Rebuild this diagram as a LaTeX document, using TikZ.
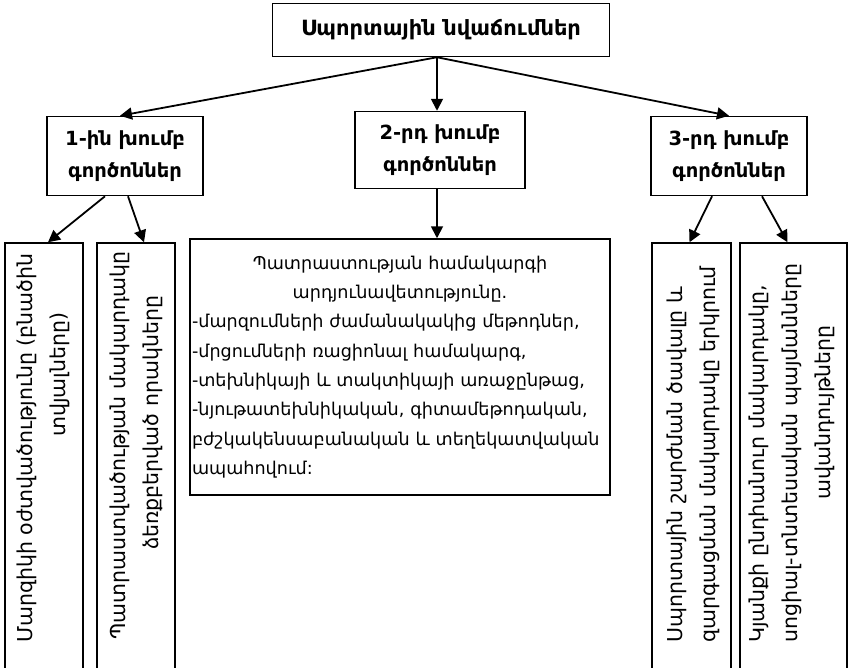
\documentclass[tikz,border=0pt]{standalone}
\usepackage{fontspec}
\setmainfont{DejaVu Sans}
\usetikzlibrary{arrows.meta}

\begin{document}
\begin{tikzpicture}[x=1pt,y=-1pt,
  box/.style={draw,line width=1.5pt,inner sep=3pt},
  grpbox/.style={box,align=center,minimum width=156pt,minimum height=79pt,
    font=\bfseries\fontsize{19.5}{32}\selectfont},
  vbox/.style={box,minimum height=440pt},
  vtext/.style={rotate=90,anchor=west,align=left,inner sep=0pt,
    font=\fontsize{20.5}{33}\selectfont},
  arr/.style={line width=1.8pt,-{Triangle[length=12pt,width=12pt]}}]
  \useasboundingbox (0,0) rectangle (856,667);
  \node[box,minimum width=337pt,minimum height=53pt,
    font=\bfseries\fontsize{21}{24}\selectfont] (top) at (441,30)
    {Սպորտային նվաճումներ};
  \node[grpbox] (g1) at (125,156) {1-ին խումբ\\գործոններ};
  \node[grpbox,minimum width=170pt,minimum height=77pt] (g2) at (440,150)
    {2-րդ խումբ\\գործոններ};
  \node[grpbox] (g3) at (729,156) {3-րդ խումբ\\գործոններ};
  \node[box,inner xsep=2pt,text width=416pt,minimum height=256pt,
    font=\fontsize{17.6}{29.3}\selectfont] (eff) at (400,367)
    {\centering Պատրաստության համակարգի\\արդյունավետությունը.\par
    \raggedright -մարզումների ժամանակակից մեթոդներ,\\
    -մրցումների ռացիոնալ համակարգ,\\
    -տեխնիկայի և տակտիկայի առաջընթաց,\\
    -նյութատեխնիկական, գիտամեթոդական,\\
    բժշկակենսաբանական և տեղեկատվական\\
    ապահովում:\par};
  \node[vbox,minimum width=78pt] (l1) at (44,463) {};
  \node[vbox,minimum width=78pt] (l2) at (136,463) {};
  \node[vbox,minimum width=79pt] (r1) at (691.5,463) {};
  \node[vbox,minimum width=107pt] (r2) at (793.5,463) {};
  \node[vtext] (l1t) at (43,643)
    {Մարզիկի օժտվածությունը (բնածին\\\hspace*{206pt}տվյալները)};
  \node[vtext] (l2t) at (136,640)
    {Պատրաստվածության մակարդակը\\\hspace*{90pt}ձեռքբերված որակները};
  \node[vtext] (r1t) at (693,643)
    {Սպորտային շարժման ծավալը և\\զարգացման մակարդակը երկրում};
  \node[vtext] (r2t) at (792,643)
    {Կյանքի ընդհանուր մակարդակը,\\սոցիալ-տնտեսական պայմանները\\
    \hspace*{143pt}ավանդույթները};
  \draw[arr] ([xshift=-4pt]top.south) -- ([xshift=-5pt]g1.north);
  \draw[arr] ([xshift=-4pt]top.south) -- ([xshift=-3pt]g2.north);
  \draw[arr] ([xshift=-4pt]top.south) -- (g3.north);
  \draw[arr] ([xshift=-20pt]g1.south) -- ([xshift=4pt]l1.north);
  \draw[arr] ([xshift=3pt]g1.south) -- ([xshift=8pt]l2.north);
  \draw[arr] ([xshift=-3pt]g2.south) -- ([xshift=37pt]eff.north);
  \draw[arr] ([xshift=-17pt]g3.south) -- ([xshift=-2pt]r1.north);
  \draw[arr] ([xshift=33pt]g3.south) -- ([xshift=-6pt]r2.north);
\end{tikzpicture}
\end{document}
